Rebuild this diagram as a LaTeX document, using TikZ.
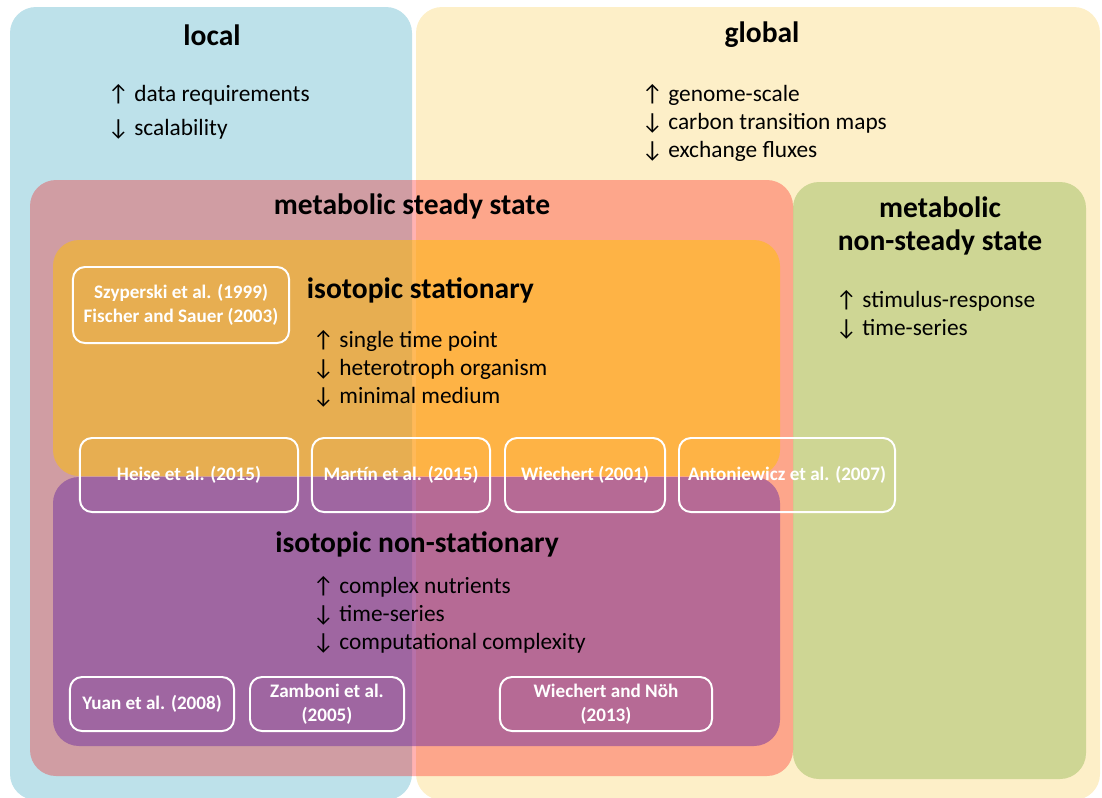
\documentclass[tikz,border=0pt]{standalone}
\usepackage{fontspec}
\setmainfont{Carlito}
\definecolor{localblue}{RGB}{189,225,234}
\definecolor{globalyellow}{RGB}{253,239,200}
\definecolor{nssgreen}{RGB}{206,214,148}
\definecolor{isoorange}{RGB}{255,192,0}
\definecolor{isopurple}{RGB}{112,48,160}

\begin{document}
\begin{tikzpicture}[x=0.025cm,y=-0.025cm]
        \tikzset{region/.style = {rounded corners=0.65cm}};
        \tikzset{title/.style = {font=\fontsize{21}{24}\selectfont\bfseries}};
        \tikzset{notes/.style = {anchor=west,align=left,font=\fontsize{16.6}{19.8}\selectfont}};
        \tikzset{refbox/.style = {draw=white,line width=1.4pt,rounded corners=0.3cm,text=white,align=center,
            font=\fontsize{13.6}{17}\selectfont\bfseries}};
        \useasboundingbox (0,0) rectangle (1102,797);
        % the four big areas
        \fill[region,localblue] (10,7) rectangle (412,800);
        \fill[region,globalyellow] (416,7) rectangle (1100,800);
        \fill[region,nssgreen] (793,182) rectangle (1086,779);
        \fill[region,red,fill opacity=0.3] (30,180) rectangle (793,776);
        \fill[region,isoorange,fill opacity=0.5] (53,240) rectangle (780,476);
        \fill[region,isopurple,fill opacity=0.5] (53,477) rectangle (780,746);
        % titles
        \node[title] (local) at (212,35) {local};
        \node[title] (global) at (762,35) {global};
        \node[title] (mss) at (412,206) {metabolic steady state};
        \node[title,align=center,font=\fontsize{21}{24}\selectfont\bfseries] (mnss) at (940,226) {metabolic\\non-steady state};
        \node[title,anchor=west] (isostat) at (302,290) {isotopic stationary};
        \node[title] (isononstat) at (417,544) {isotopic non-stationary};
        % pros and cons
        \node[notes,font=\fontsize{16.6}{24}\selectfont] (localnotes) at (103,112) {↑ data requirements\\↓ scalability};
        \node[notes] (globalnotes) at (637,123) {↑ genome-scale\\↓ carbon transition maps\\↓ exchange fluxes};
        \node[notes] (mnssnotes) at (831,315) {↑ stimulus-response\\↓ time-series};
        \node[notes] (isostatnotes) at (308,369) {↑ single time point\\↓ heterotroph organism\\↓ minimal medium};
        \node[notes] (isononstatnotes) at (308,615) {↑ complex nutrients\\↓ time-series\\↓ computational complexity};
        % references
        \node[refbox,minimum width=5.4cm,minimum height=1.9cm] (szyperski) at (181,305) {Szyperski et al. (1999)\\Fischer and Sauer (2003)};
        \node[refbox,minimum width=5.45cm,minimum height=1.85cm] (heise) at (189,475) {Heise et al. (2015)};
        \node[refbox,minimum width=4.45cm,minimum height=1.85cm] (martin) at (401,475) {Martín et al. (2015)};
        \node[refbox,minimum width=4.0cm,minimum height=1.85cm] (wiechert) at (585,475) {Wiechert (2001)};
        \node[refbox,minimum width=5.4cm,minimum height=1.85cm] (antoniewicz) at (787,475) {Antoniewicz et al. (2007)};
        \node[refbox,minimum width=4.1cm,minimum height=1.35cm] (yuan) at (152,704) {Yuan et al. (2008)};
        \node[refbox,minimum width=3.85cm,minimum height=1.35cm] (zamboni) at (327,704) {Zamboni et al.\\(2005)};
        \node[refbox,minimum width=5.3cm,minimum height=1.35cm] (wiechertnoh) at (606,704) {Wiechert and Nöh\\(2013)};
    \end{tikzpicture}
\end{document}
